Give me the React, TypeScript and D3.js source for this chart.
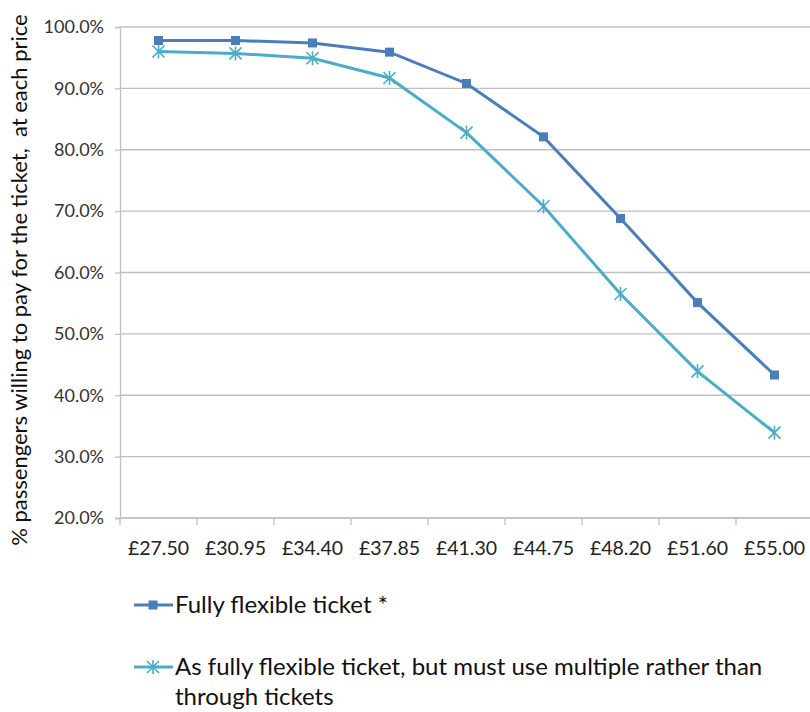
import { useEffect, useRef } from "react";
import * as d3 from "d3";

const prices = ["£27.50", "£30.95", "£34.40", "£37.85", "£41.30", "£44.75", "£48.20", "£51.60", "£55.00"];
const flexible = [97.8, 97.8, 97.4, 95.9, 90.8, 82.1, 68.8, 55.1, 43.3];
const multiple = [96.0, 95.7, 94.9, 91.7, 82.8, 70.8, 56.5, 43.9, 33.9];
const yTicks = [20, 30, 40, 50, 60, 70, 80, 90, 100];

const seriesNames = [
    "Fully flexible ticket *",
    "As fully flexible ticket, but must use multiple rather than",
];

const width = 810;
const height = 712;
const font = "Lato, 'Open Sans', sans-serif";
const blue = "#4a7ebb";
const teal = "#4bacc6";

// square marker
const drawSquare = (g: any, x: number, y: number, color: string) => {
    g.append("rect")
        .attr("x", x - 4.5)
        .attr("y", y - 4.5)
        .attr("width", 9)
        .attr("height", 9)
        .attr("fill", color);
};

// excel style star marker: X with a vertical bar
const drawStar = (g: any, x: number, y: number, color: string) => {
    const r = 6;
    const p = d3.path();
    p.moveTo(x - r, y - r); p.lineTo(x + r, y + r);
    p.moveTo(x - r, y + r); p.lineTo(x + r, y - r);
    p.moveTo(x, y - r - 1); p.lineTo(x, y + r + 1);
    g.append("path")
        .attr("d", p.toString())
        .attr("stroke", color)
        .attr("stroke-width", 1.6)
        .attr("fill", "none");
};

export default function App() {
    const svgRef = useRef<SVGSVGElement | null>(null);

    useEffect(() => {
        const svg = d3.select(svgRef.current);
        svg.selectAll("*").remove();

        const x = d3.scaleBand().domain(prices).range([120, 813]);
        const y = d3.scaleLinear().domain([20, 100]).range([518, 27]);

        // gridlines
        svg.append("g")
            .selectAll("line")
            .data(yTicks)
            .join("line")
            .attr("x1", 120)
            .attr("x2", width)
            .attr("y1", (d) => y(d))
            .attr("y2", (d) => y(d))
            .attr("stroke", "#c0c0c0")
            .attr("stroke-width", 1.3);

        // y axis
        const yAxis = svg.append("g")
            .attr("transform", "translate(120,0)")
            .call(d3.axisLeft(y).tickValues(yTicks).tickSize(5).tickPadding(11)
                .tickFormat((d: any) => d.toFixed(1) + "%"));
        yAxis.select(".domain").attr("stroke", "#c0c0c0").attr("stroke-width", 1.3);
        yAxis.selectAll(".tick line").attr("stroke", "#c0c0c0").attr("stroke-width", 1.3);
        yAxis.selectAll("text")
            .attr("font-family", font)
            .attr("font-size", 18)
            .attr("fill", "#333");

        // x axis (ticks on band edges)
        const xAxis = svg.append("g").attr("transform", `translate(0,${y(20)})`);
        xAxis.append("line")
            .attr("x1", 120).attr("x2", width)
            .attr("stroke", "#c0c0c0").attr("stroke-width", 1.3);
        xAxis.selectAll("line.edge")
            .data(prices)
            .join("line")
            .attr("class", "edge")
            .attr("x1", (d) => x(d)!)
            .attr("x2", (d) => x(d)!)
            .attr("y1", 0)
            .attr("y2", 7)
            .attr("stroke", "#c0c0c0")
            .attr("stroke-width", 1.3);
        xAxis.selectAll("text")
            .data(prices)
            .join("text")
            .attr("x", (d) => x(d)! + x.bandwidth() / 2)
            .attr("y", 37)
            .attr("text-anchor", "middle")
            .attr("font-family", font)
            .attr("font-size", 19.5)
            .attr("fill", "#222")
            .text((d) => d);

        const cx = (i: number) => x(prices[i])! + x.bandwidth() / 2;
        const line = d3.line<number>()
            .x((_, i) => cx(i))
            .y((d) => y(d));

        svg.append("path")
            .datum(flexible)
            .attr("fill", "none")
            .attr("stroke", blue)
            .attr("stroke-width", 3)
            .attr("d", line);
        svg.append("path")
            .datum(multiple)
            .attr("fill", "none")
            .attr("stroke", teal)
            .attr("stroke-width", 3)
            .attr("d", line);

        const marks = svg.append("g");
        flexible.forEach((v, i) => drawSquare(marks, cx(i), y(v), blue));
        multiple.forEach((v, i) => drawStar(marks, cx(i), y(v), teal));

        // y title
        svg.append("text")
            .attr("transform", `translate(27,${280}) rotate(-90)`)
            .attr("text-anchor", "middle")
            .attr("font-family", font)
            .attr("font-size", 22)
            .attr("fill", "#111")
            .attr("xml:space", "preserve")
            .text("% passengers willing to pay for the ticket,  at each price");

        // legend
        const lg = svg.append("g");
        const fs = 24;
        lg.append("line").attr("x1", 134).attr("x2", 173).attr("y1", 605).attr("y2", 605)
            .attr("stroke", blue).attr("stroke-width", 3);
        drawSquare(lg, 153, 605, blue);
        lg.append("text").attr("x", 175).attr("y", 613)
            .attr("font-family", font).attr("font-size", fs).attr("fill", "#111")
            .text(seriesNames[0]);

        lg.append("line").attr("x1", 134).attr("x2", 173).attr("y1", 667).attr("y2", 667)
            .attr("stroke", teal).attr("stroke-width", 3);
        drawStar(lg, 153, 667, teal);
        lg.append("text").attr("x", 175).attr("y", 675)
            .attr("font-family", font).attr("font-size", fs).attr("fill", "#111")
            .text(seriesNames[1]);
        lg.append("text").attr("x", 175).attr("y", 705)
            .attr("font-family", font).attr("font-size", fs).attr("fill", "#111")
            .text("through tickets");
    }, []);

    return (
        <svg
            ref={svgRef}
            width={width}
            height={height}
            style={{ position: "absolute", top: 0, left: 0, background: "white" }}
        />
    );
}
